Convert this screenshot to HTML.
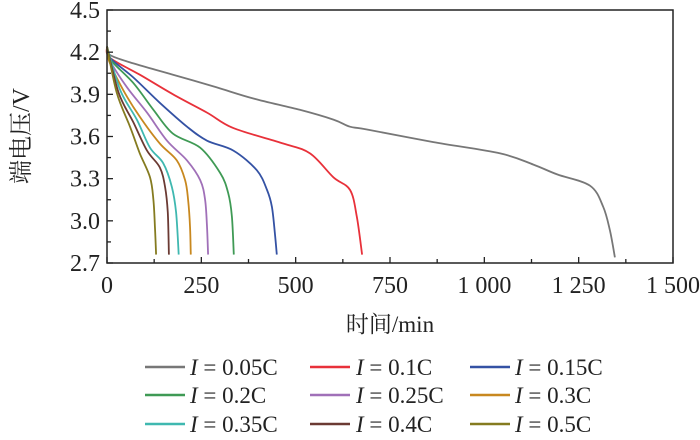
<!DOCTYPE html>
<html><head><meta charset="utf-8"><style>
html,body{margin:0;padding:0;background:#fff;}
svg text{font-family:"Liberation Serif","Noto Serif CJK SC",serif;fill:#222;}
</style></head><body>
<svg id="chart" width="700" height="435" viewBox="0 0 700 435" xmlns="http://www.w3.org/2000/svg">
<g id="plot"></g>
<g id="axes"></g>
<g id="legend"></g>
</svg>
<script>
const seriesLabels = ["0.05C","0.1C","0.15C","0.2C","0.25C","0.3C","0.35C","0.4C","0.5C"];
const seriesColors = ["#777777","#e8313a","#3452a4","#3f9a55","#a070b8","#c8881f","#3fb8b0","#6b3a33","#857b20"];
const t005 = [0,8,70,175,290,388,511,600,644,689,865,1042,1130,1193,1280,1315,1333,1346];
const v005 = [4.24,4.18,4.12,4.04,3.95,3.87,3.79,3.72,3.67,3.65,3.56,3.48,3.40,3.33,3.25,3.10,2.93,2.74];
const t01 = [0,8,87,175,265,335,467,538,600,644,662,676];
const v01 = [4.24,4.16,4.04,3.90,3.77,3.66,3.55,3.48,3.31,3.22,3.03,2.76];
const t015 = [0,8,70,140,212,265,335,397,424,437,445,450];
const v015 = [4.24,4.16,4.02,3.84,3.67,3.57,3.50,3.36,3.22,3.10,2.91,2.76];
const t02 = [0,8,70,123,175,247,300,321,331,336];
const v02 = [4.24,4.15,3.98,3.79,3.62,3.52,3.34,3.20,3.03,2.76];
const t025 = [0,8,53,106,159,212,247,260,265,268];
const v025 = [4.24,4.14,3.95,3.77,3.57,3.43,3.29,3.15,2.96,2.76];
const t03 = [0,5,43,87,140,185,207,215,220,222];
const v03 = [4.24,4.14,3.93,3.74,3.55,3.43,3.29,3.15,2.96,2.76];
const t035 = [0,35,79,114,149,172,183,190];
const v035 = [4.24,3.93,3.72,3.52,3.41,3.24,3.06,2.76];
const t04 = [0,31,70,106,140,154,161,164];
const v04 = [4.24,3.91,3.70,3.50,3.38,3.24,3.06,2.76];
const t05 = [0,26,61,87,114,123,127,130];
const v05 = [4.24,3.91,3.67,3.48,3.31,3.15,2.96,2.76];
const seriesT = [t005,t01,t015,t02,t025,t03,t035,t04,t05];
const seriesV = [v005,v01,v015,v02,v025,v03,v035,v04,v05];
const xTicks = [0,250,500,750,1000,1250,1500];
const xTickLabels = ["0","250","500","750","1 000","1 250","1 500"];
const yTicks = [2.7,3.0,3.3,3.6,3.9,4.2,4.5];
const yTickLabels = ["2.7","3.0","3.3","3.6","3.9","4.2","4.5"];

const NS="http://www.w3.org/2000/svg";
const L=107,R=673,T=10,B=263;
const xMin=0,xMax=1500,yMin=2.7,yMax=4.5;
function xs(t){return L+(t-xMin)/(xMax-xMin)*(R-L);}
function ys(v){return B-(v-yMin)/(yMax-yMin)*(B-T);}
function mk(tag,attrs,parent){const e=document.createElementNS(NS,tag);for(const k in attrs)e.setAttribute(k,attrs[k]);parent.appendChild(e);return e;}
function smooth(pts){
  let d='M'+pts[0][0].toFixed(1)+','+pts[0][1].toFixed(1);
  for(let i=0;i<pts.length-1;i++){
    const p0=pts[Math.max(0,i-1)],p1=pts[i],p2=pts[i+1],p3=pts[Math.min(pts.length-1,i+2)];
    const k=1/6;
    const c1=[p1[0]+(p2[0]-p0[0])*k,p1[1]+(p2[1]-p0[1])*k];
    const c2=[p2[0]-(p3[0]-p1[0])*k,p2[1]-(p3[1]-p1[1])*k];
    d+=' C'+c1[0].toFixed(1)+','+c1[1].toFixed(1)+' '+c2[0].toFixed(1)+','+c2[1].toFixed(1)+' '+p2[0].toFixed(1)+','+p2[1].toFixed(1);
  }
  return d;
}
const plot=document.getElementById('plot'),axes=document.getElementById('axes'),legend=document.getElementById('legend');

seriesT.forEach((ts,i)=>{
  const pts=ts.map((t,j)=>[xs(t),ys(seriesV[i][j])]);
  const p=mk('path',{d:smooth(pts),fill:'none',stroke:seriesColors[i],'stroke-width':1.8,'stroke-linejoin':'round'},plot);
  
  
});

const frame=mk('rect',{x:L,y:T,width:R-L,height:B-T,fill:'none',stroke:'#222','stroke-width':1.5},axes);



xTicks.forEach((t,i)=>{
  const x=xs(t);
  mk('line',{x1:x,y1:B,x2:x,y2:B-6,stroke:'#222','stroke-width':1.3},axes);
  if(i<xTicks.length-1){const xm=xs(t+125);mk('line',{x1:xm,y1:B,x2:xm,y2:B-4,stroke:'#222','stroke-width':1.3},axes);}
  const tx=mk('text',{x:x,y:293,'font-size':24,'text-anchor':'middle'},axes);
  tx.textContent=xTickLabels[i];
  
  
});
yTicks.forEach((v,i)=>{
  const y=ys(v);
  mk('line',{x1:L,y1:y,x2:L+6,y2:y,stroke:'#222','stroke-width':1.3},axes);
  if(i<yTicks.length-1){const ym=ys(v+0.15);mk('line',{x1:L,y1:ym,x2:L+4,y2:ym,stroke:'#222','stroke-width':1.3},axes);}
  const tx=mk('text',{x:100,y:y+8,'font-size':24,'text-anchor':'end'},axes);
  tx.textContent=yTickLabels[i];
  
  
});
const xt=mk('text',{x:390,y:332,'font-size':23,'text-anchor':'middle'},axes);
xt.textContent='时间/min';


const yt=mk('text',{x:0,y:0,'font-size':24,'text-anchor':'middle',transform:'translate(29,136) rotate(-90)'},axes);
yt.textContent='端电压/V';



const colLine=[145,310,470],colText=[190,356,515],rowY=[367,395,424];
seriesLabels.forEach((lab,i)=>{
  const c=i%3,r=Math.floor(i/3);
  const g=mk('g',{},legend);
  
  
  mk('line',{x1:colLine[c],y1:rowY[r],x2:colLine[c]+40,y2:rowY[r],stroke:seriesColors[i],'stroke-width':2.5},g);
  const tx=mk('text',{x:colText[c],y:rowY[r]+8,'font-size':23},g);
  const it=mk('tspan',{'font-style':'italic'},tx);it.textContent='I';
  const rest=mk('tspan',{},tx);rest.textContent=' = '+lab;
});
</script>
</body></html>
